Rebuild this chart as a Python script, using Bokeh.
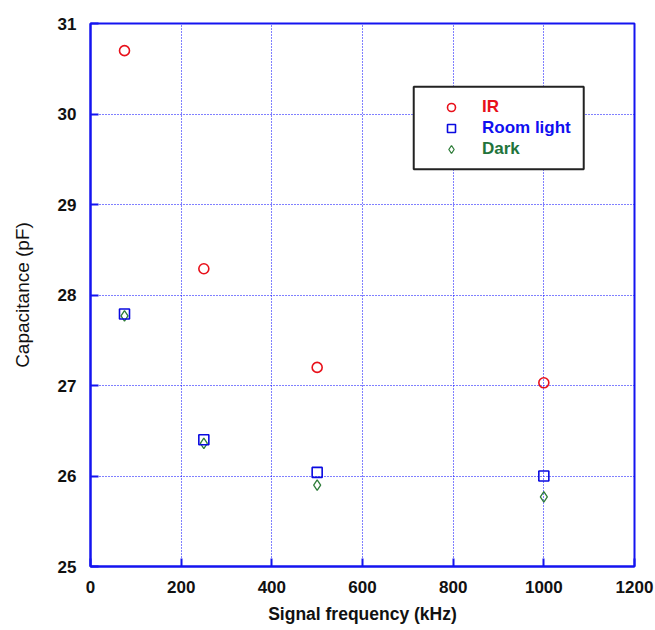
from bokeh.plotting import figure
from bokeh.models import Legend, LegendItem, BoxAnnotation, FixedTicker, Range1d
from bokeh.embed import file_html
from bokeh.resources import INLINE

# data
freq_khz = [75, 250, 500, 1000]
cap_ir = [30.70, 28.29, 27.20, 27.03]
cap_room = [27.79, 26.40, 26.04, 26.00]
cap_dark = [27.77, 26.36, 25.90, 25.77]
x_ticks = [0, 200, 400, 600, 800, 1000, 1200]
y_ticks = [25, 26, 27, 28, 29, 30, 31]

FONT = "Liberation Sans"
BLUE = "#1414f0"
RED = "#e8101a"
SQ_BLUE = "#0a0ae0"
GREEN = "#2f7d3a"

p = figure(width=655, height=630, output_backend="svg", toolbar_location=None,
           x_range=Range1d(0, 1200), y_range=Range1d(25, 31),
           min_border_left=90, min_border_right=21, min_border_top=23, min_border_bottom=64)

p.background_fill_color = "white"
p.border_fill_color = "white"
p.outline_line_color = BLUE
p.outline_line_width = 2

for ax in (p.xaxis[0], p.yaxis[0]):
    ax.axis_line_color = BLUE
    ax.axis_line_width = 2
    ax.major_tick_line_color = BLUE
    ax.major_tick_line_width = 2
    ax.major_tick_in = 8
    ax.major_tick_out = 0
    ax.minor_tick_line_color = None
    ax.major_label_text_font = FONT
    ax.major_label_text_font_style = "bold"
    ax.major_label_text_font_size = "17px"
    ax.major_label_text_color = "#111111"
    ax.axis_label_text_font = FONT
    ax.axis_label_text_color = "#111111"

p.xaxis[0].ticker = FixedTicker(ticks=x_ticks)
p.yaxis[0].ticker = FixedTicker(ticks=y_ticks)
p.xaxis[0].axis_label = "Signal frequency (kHz)"
p.xaxis[0].axis_label_text_font_style = "bold"
p.xaxis[0].axis_label_text_font_size = "17.5px"
p.xaxis[0].major_label_standoff = 14
p.xaxis[0].axis_label_standoff = 8
p.yaxis[0].axis_label = "Capacitance (pF)"
p.yaxis[0].axis_label_text_font_style = "normal"
p.yaxis[0].axis_label_text_font_size = "19px"
p.yaxis[0].major_label_standoff = 14
p.yaxis[0].axis_label_standoff = 22

p.xgrid[0].ticker = FixedTicker(ticks=x_ticks)
p.ygrid[0].ticker = FixedTicker(ticks=y_ticks)
for g in (p.xgrid[0], p.ygrid[0]):
    g.grid_line_color = "#0000ff"
    g.grid_line_width = 1
    g.grid_line_alpha = 1.0
    g.grid_line_dash = "1 2"

r_dark = p.scatter(freq_khz, cap_dark, marker="diamond", size=10.5,
                   fill_color=None, line_color=GREEN, line_width=1.3)
r_room = p.scatter(freq_khz, cap_room, marker="square", size=10, fill_color=None,
                   line_color=SQ_BLUE, line_width=1.6)
r_ir = p.scatter(freq_khz, cap_ir, marker="circle", size=10, fill_color=None,
                 line_color=RED, line_width=1.6)

box = BoxAnnotation(left=713, right=1088, top=30.30, bottom=29.39,
                    fill_color="white", fill_alpha=1.0,
                    line_color="#222222", line_width=2, line_alpha=1.0)
p.add_layout(box)

def make_legend(label, rend, color, y):
    return Legend(items=[LegendItem(label=label, renderers=[rend])], location=(351, y),
                  padding=0, margin=0, spacing=0, glyph_width=20, glyph_height=20,
                  label_standoff=21, label_height=20,
                  border_line_alpha=0, background_fill_alpha=0,
                  label_text_font=FONT, label_text_font_style="bold",
                  label_text_font_size="17px", label_text_color=color)

p.add_layout(make_legend("IR", r_ir, RED, 449))
p.add_layout(make_legend("Room light", r_room, "#1010f0", 428))
p.add_layout(make_legend("Dark", r_dark, "#22743a", 407))

open("out.html", "w").write(file_html(p, INLINE))
